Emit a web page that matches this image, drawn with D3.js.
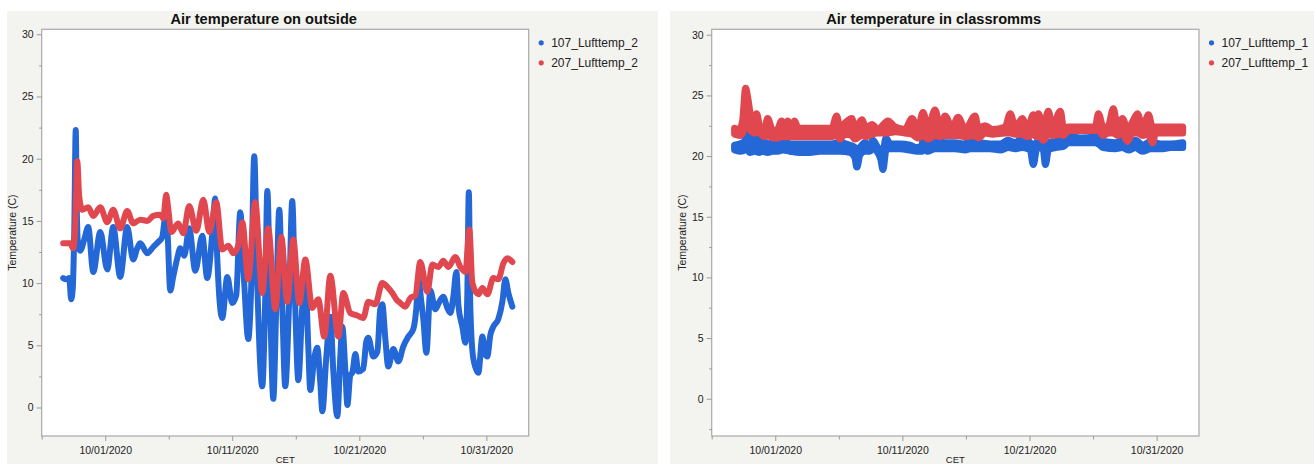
<!DOCTYPE html>
<html><head><meta charset="utf-8">
<script src="https://cdn.jsdelivr.net/npm/d3@7"></script>
<style>
body{margin:0;background:#fff;}
svg{display:block;font-family:"Liberation Sans",Arial,Helvetica,sans-serif;}
</style></head><body>
<svg id="chart" width="1314" height="464"></svg>
<script>
// ---------- DATA (times = days since 2020-10-01 00:00, values in °C) ----------
const seriesNamesOutside = ["107_Lufttemp_2", "207_Lufttemp_2"];
const seriesNamesInside  = ["107_Lufttemp_1", "207_Lufttemp_1"];
const chartTitles = ["Air temperature on outside", "Air temperature in classromms"];
const yAxisTitle = "Temperature (C)";
const xAxisTitle = "CET";
const yTicks = [0, 5, 10, 15, 20, 25, 30];
const yMinorTicks = [-2.5, 2.5, 7.5, 12.5, 17.5, 22.5, 27.5];
const xTickDates = ["2020-10-01", "2020-10-11", "2020-10-21", "2020-10-31"];
const xMinorTickDates = ["2020-09-26", "2020-10-06", "2020-10-16", "2020-10-26"];

// Outside, room 107
const outTimes107 = [-3.31,-3.07,-2.83,-2.68,-2.56,-2.44,-2.32,-2.24,-2.13,-1.97,-1.65,-1.34,-0.94,-0.39,0.16,0.63,1.18,1.73,2.20,2.52,2.76,3.31,3.78,4.17,4.49,4.72,4.88,5.12,5.35,5.67,5.91,6.22,6.61,7.09,7.64,8.03,8.43,8.66,8.82,9.21,9.61,10.00,10.31,10.63,10.94,11.26,11.50,11.73,11.97,12.36,12.60,12.76,12.99,13.23,13.46,13.70,13.94,14.17,14.49,14.72,14.96,15.20,15.51,15.75,15.98,16.14,16.46,16.69,16.93,17.09,17.40,17.72,17.95,18.27,18.50,18.66,18.90,19.06,19.29,19.45,19.69,19.92,20.31,20.55,20.71,21.10,21.42,21.65,21.81,22.05,22.28,22.68,23.07,23.46,23.86,24.25,24.49,24.65,24.88,25.04,25.28,25.59,25.98,26.30,26.61,26.93,27.17,27.40,27.64,27.80,28.11,28.35,28.50,28.62,28.74,28.98,29.37,29.69,29.92,30.08,30.31,30.55,30.94,31.26,31.50,31.73,32.05];
const outValues107 = [10.4,10.3,10.4,8.7,9.5,14.0,22.3,16.0,13.0,12.6,13.5,14.5,10.9,14.1,11.1,14.5,10.5,14.5,11.9,12.8,13.2,12.4,12.9,13.3,13.7,15.2,14.5,9.4,10.5,12.0,12.8,12.2,14.4,11.0,13.8,10.4,14.0,16.8,12.0,7.2,10.5,8.4,9.0,15.7,10.0,5.5,10.0,20.2,10.0,1.7,9.0,17.4,8.0,0.7,8.0,15.9,8.0,1.7,9.0,16.6,8.0,2.2,8.0,10.5,5.0,1.4,4.0,4.8,2.0,-0.3,4.0,7.3,3.0,-0.7,4.0,6.5,3.0,0.2,2.6,2.8,4.3,2.9,3.1,5.3,5.6,4.1,4.5,7.9,8.3,5.5,3.3,4.7,3.7,4.9,5.7,6.3,8.0,10.3,8.5,7.1,4.4,9.4,7.9,8.5,8.9,8.0,7.6,8.9,10.9,8.2,6.5,5.2,9.0,17.3,8.0,3.9,2.8,5.7,4.3,4.1,5.8,6.5,7.1,8.5,10.3,9.2,8.1];

// Outside, room 207
const outTimes207 = [-3.31,-2.76,-2.52,-2.36,-2.20,-2.05,-1.81,-1.34,-0.94,-0.39,0.16,0.63,1.18,1.73,2.20,2.76,3.31,3.78,4.33,4.57,4.80,4.96,5.20,5.75,6.14,6.61,7.17,7.72,8.19,8.74,9.21,9.69,10.08,10.47,10.79,11.26,11.81,12.36,12.83,13.39,13.86,14.33,14.80,15.28,15.75,16.30,16.77,17.24,17.72,18.35,18.74,19.29,19.84,20.31,20.71,21.26,21.81,22.20,22.60,22.91,23.23,23.62,24.02,24.41,24.80,25.35,25.75,26.22,26.61,27.01,27.56,27.95,28.35,28.66,28.90,29.37,29.69,30.08,30.55,30.94,31.34,31.65,32.05];
const outValues207 = [13.2,13.2,12.8,14.5,19.8,17.0,15.9,16.1,15.4,16.1,14.9,15.9,14.4,15.8,14.8,15.1,15.0,15.4,15.5,15.2,17.1,16.0,14.1,14.8,14.0,16.2,14.2,16.7,14.1,16.5,12.7,13.0,12.4,13.0,14.9,10.3,16.5,9.2,14.4,7.9,13.7,8.5,13.5,8.4,11.9,8.0,8.7,5.7,10.6,5.7,9.2,7.6,7.4,7.2,8.5,8.3,10.0,9.7,9.2,8.7,8.4,8.1,8.8,9.0,11.7,9.3,11.5,11.3,11.8,11.3,12.1,11.3,10.9,14.3,10.0,9.1,9.6,9.1,10.4,10.3,11.6,12.0,11.7];

// Classrooms, room 107 (lower / upper envelope of the dense point cloud)
const inTimes107 = [-3.20,-2.81,-2.41,-2.25,-2.02,-1.62,-1.23,-0.99,-0.60,-0.21,0.19,0.58,1.14,1.92,2.71,3.50,4.29,5.08,5.87,6.26,6.42,6.66,7.05,7.44,7.68,8.07,8.31,8.47,8.71,9.02,9.81,10.60,11.15,11.55,11.70,11.94,12.57,13.36,14.15,14.94,15.33,16.12,16.91,17.70,18.33,18.88,19.43,20.06,20.30,20.54,20.85,21.09,21.25,21.48,22.04,22.67,23.06,24.01,25.18,25.42,25.81,26.76,27.31,27.78,28.34,28.89,29.53,30.32,31.10,32.05];
const in107Low  = [20.5,20.4,20.5,20.7,20.3,20.4,20.3,20.4,20.3,20.4,20.4,20.5,20.4,20.3,20.3,20.4,20.4,20.4,20.3,19.9,19.1,20.1,20.4,20.4,20.6,20.3,19.7,18.9,20.5,20.6,20.6,20.5,20.4,20.4,20.7,20.4,20.6,20.6,20.6,20.5,20.6,20.6,20.6,20.5,20.7,20.6,20.7,20.5,19.3,20.5,20.7,20.5,19.3,20.5,20.7,20.8,21.1,21.1,21.1,21.0,20.7,20.6,20.7,20.5,20.7,20.4,20.6,20.6,20.7,20.7];
const in107High = [20.9,21.0,21.2,22.3,21.2,21.7,20.9,21.4,20.9,21.2,20.9,21.6,21.0,21.0,21.0,21.0,21.0,21.1,20.9,20.7,20.4,20.7,21.1,20.9,21.3,20.7,20.5,20.3,21.5,21.0,21.0,20.9,20.7,20.9,22.4,20.9,21.3,21.1,21.1,21.0,21.5,21.1,21.0,21.0,21.3,21.1,21.5,21.1,20.7,21.1,21.4,21.1,20.7,21.1,21.2,21.5,21.6,21.5,21.6,22.0,21.2,21.1,21.3,20.9,21.3,20.9,21.2,21.0,21.0,21.1];

// Classrooms, room 207 (lower / upper envelope)
const inTimes207 = [-3.20,-2.81,-2.57,-2.33,-2.18,-1.94,-1.62,-1.47,-1.23,-0.84,-0.60,-0.21,0.19,0.50,0.74,0.98,1.21,1.53,1.77,2.08,4.45,4.83,5.08,5.47,6.02,6.26,6.81,7.13,7.60,8.07,8.86,9.42,10.20,10.76,11.23,11.62,12.02,12.57,12.96,13.36,13.91,14.38,14.94,15.72,15.96,16.51,17.07,18.09,18.49,18.88,19.43,19.83,20.30,20.54,20.70,21.09,21.48,21.80,22.43,22.67,23.06,25.18,25.42,25.81,26.21,26.60,26.92,27.31,27.70,28.10,28.49,28.89,29.36,29.68,29.91,32.05];
const in207Low  = [21.8,21.7,21.9,22.6,22.6,22.1,21.9,22.1,21.9,21.6,21.7,21.5,21.5,21.6,21.6,21.6,21.6,21.6,21.6,21.6,21.6,21.7,21.4,21.8,21.7,21.4,21.7,21.6,21.8,21.9,21.9,22.0,21.9,21.8,21.5,21.7,21.4,21.7,21.6,21.7,21.7,21.7,21.6,21.7,21.5,21.9,21.8,21.9,21.9,21.8,21.8,21.6,21.8,21.6,21.8,21.3,21.8,21.7,21.8,21.7,22.1,22.1,22.1,21.7,21.9,21.9,21.7,21.9,21.2,21.9,21.9,21.7,21.8,21.1,21.9,21.9];
const in207High = [22.3,22.2,22.9,25.6,24.9,23.4,22.9,23.5,22.5,22.2,23.1,22.1,22.2,22.9,22.2,22.9,22.2,22.9,22.3,22.3,22.3,23.3,22.3,22.7,23.1,22.2,23.0,22.3,22.6,22.2,22.9,22.4,22.2,23.1,22.2,23.6,22.3,23.8,22.3,23.3,22.3,23.2,22.2,23.3,22.3,22.5,22.2,22.4,23.5,22.3,23.1,22.2,23.4,22.3,23.5,22.3,23.7,22.4,23.7,22.3,22.4,22.4,23.5,22.3,22.5,23.9,22.3,23.1,22.2,22.8,23.5,22.3,23.4,22.3,22.4,22.4];

// ---------- RENDERING ----------
const blue = "#2467d7", red = "#e1474f";
const dayMs = 864e5, base = Date.UTC(2020, 9, 1);
const toDate = d => new Date(base + d * dayMs);
const parse = d3.utcParse("%Y-%m-%d");
const svg = d3.select("#chart");

// panel backgrounds
svg.append("rect").attr("x", 7).attr("y", 11).attr("width", 651).attr("height", 453).attr("fill", "#f3f3ef");
svg.append("rect").attr("x", 670).attr("y", 11).attr("width", 644).attr("height", 453).attr("fill", "#f3f3ef");

function panel(cfg) {
  const g = svg.append("g").attr("transform", `translate(${cfg.left},${cfg.top})`);
  const W = cfg.width, H = cfg.height;
  const x = d3.scaleUtc().domain([Date.UTC(2020, 8, 26), Date.UTC(2020, 10, 3, 8)]).range([0, W]);
  const y = d3.scaleLinear().domain(cfg.yDomain).range([H, 0]);

  g.append("rect").attr("width", W).attr("height", H).attr("fill", "#fff");

  const clipId = "clip" + cfg.id;
  g.append("clipPath").attr("id", clipId).append("rect").attr("width", W).attr("height", H);
  const plot = g.append("g").attr("clip-path", `url(#${clipId})`);
  cfg.draw(plot, x, y);

  g.append("rect").attr("width", W).attr("height", H).attr("fill", "none")
    .attr("stroke", "#a9a9a9").attr("stroke-width", 1.2);

  // y axis
  const ya = g.append("g").call(d3.axisLeft(y).tickValues(yTicks).tickSize(5).tickPadding(3));
  const ym = g.append("g").call(d3.axisLeft(y).tickValues(yMinorTicks.filter(v => v >= cfg.yDomain[0])).tickSize(2.5).tickFormat(""));
  // x axis
  const xa = g.append("g").attr("transform", `translate(0,${H})`)
    .call(d3.axisBottom(x).tickValues(xTickDates.map(parse)).tickSize(5).tickPadding(6).tickFormat(d3.utcFormat("%m/%d/%Y")));
  const xm = g.append("g").attr("transform", `translate(0,${H})`)
    .call(d3.axisBottom(x).tickValues(xMinorTickDates.map(parse)).tickSize(3.5).tickFormat(""));
  [ya, ym, xa, xm].forEach(a => {
    a.select(".domain").remove();
    a.selectAll("line").attr("stroke", "#9a9a9a");
    a.selectAll("text").attr("fill", "#222").style("font-size", "10.5px").style("font-family", "'Liberation Sans',Arial,sans-serif");
  });

  // titles
  g.append("text").attr("x", 222).attr("y", -5).attr("text-anchor", "middle")
    .style("font-size", "14.6px").style("font-weight", "bold").attr("fill", "#111").text(cfg.title);
  g.append("text").attr("transform", `translate(-26,${H / 2}) rotate(-90)`).attr("text-anchor", "middle")
    .style("font-size", "10.5px").attr("fill", "#222").text(yAxisTitle);
  g.append("text").attr("x", W / 2).attr("y", H + 27.3).attr("text-anchor", "middle")
    .style("font-size", "9.5px").attr("fill", "#222").text(xAxisTitle);

  // legend
  const lg = g.append("g").attr("transform", `translate(${W + 12.5},13.5)`);
  cfg.names.forEach((n, i) => {
    lg.append("circle").attr("cx", 0).attr("cy", i * 20).attr("r", 2.6).attr("fill", i === 0 ? blue : red);
    lg.append("text").attr("x", 10).attr("y", i * 20 + 4.3).style("font-size", "12px").attr("fill", "#222").text(n);
  });
}

function drawLine(plot, x, y, times, values, color) {
  const pts = times.map((t, i) => [toDate(t), values[i]]);
  plot.append("path").datum(pts)
    .attr("d", d3.line().curve(d3.curveMonotoneX).x(d => x(d[0])).y(d => y(d[1])))
    .attr("fill", "none").attr("stroke", color).attr("stroke-width", 6)
    .attr("stroke-linejoin", "round").attr("stroke-linecap", "round");
}
function drawBand(plot, x, y, times, lo, hi, color) {
  const pts = times.map((t, i) => [toDate(t), lo[i], hi[i]]);
  plot.append("path").datum(pts)
    .attr("d", d3.area().curve(d3.curveMonotoneX).x(d => x(d[0])).y0(d => y(d[1])).y1(d => y(d[2])))
    .attr("fill", color).attr("stroke", color).attr("stroke-width", 7)
    .attr("stroke-linejoin", "round");
}

panel({
  id: "L", left: 41.7, top: 29.3, width: 487, height: 406.7, yDomain: [-2.29, 30.4],
  title: chartTitles[0], names: seriesNamesOutside,
  draw: (p, x, y) => {
    drawLine(p, x, y, outTimes107, outValues107, blue);
    drawLine(p, x, y, outTimes207, outValues207, red);
  }
});
panel({
  id: "R", left: 711.7, top: 29.3, width: 487.3, height: 406.7, yDomain: [-3.07, 30.45],
  title: chartTitles[1], names: seriesNamesInside,
  draw: (p, x, y) => {
    drawBand(p, x, y, inTimes107, in107Low, in107High, blue);
    drawBand(p, x, y, inTimes207, in207Low, in207High, red);
  }
});
</script>
</body></html>
